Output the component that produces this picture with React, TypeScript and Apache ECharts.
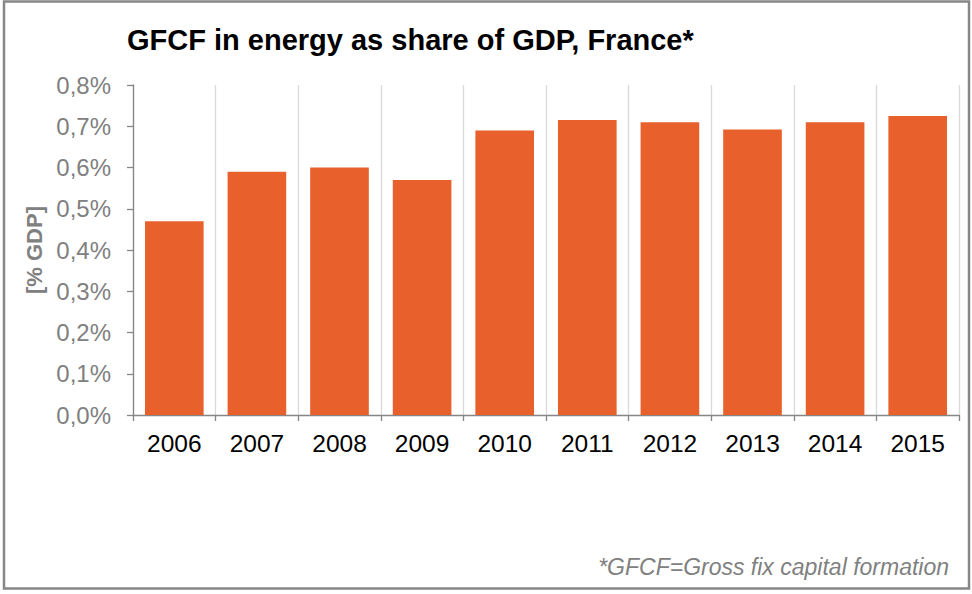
import React, { useEffect, useRef } from "react";
import * as echarts from "echarts";

const categories = ["2006", "2007", "2008", "2009", "2010", "2011", "2012", "2013", "2014", "2015"];
const values = [0.47, 0.59, 0.6, 0.57, 0.69, 0.715, 0.71, 0.692, 0.71, 0.725];
const titleText = "GFCF in energy as share of GDP, France*";
const footnoteText = "*GFCF=Gross fix capital formation";
const yAxisName = "[% GDP]";

export default function App() {
  const ref = useRef<HTMLDivElement>(null);
  useEffect(() => {
    if (!ref.current) return;
    const chart = echarts.init(ref.current, null, { renderer: "svg" });
    const font = "Liberation Sans, Arial, sans-serif";
    chart.setOption({
      animation: false,
      backgroundColor: "#ffffff",
      textStyle: { fontFamily: font },
      title: {
        text: titleText,
        left: 122,
        top: 20,
        textStyle: { fontSize: 29, fontWeight: "bold", color: "#000000", fontFamily: font },
      },
      grid: { left: 133, right: 13, top: 85, bottom: 179, containLabel: false },
      xAxis: {
        type: "category",
        data: categories,
        boundaryGap: true,
        axisLine: { show: true, lineStyle: { color: "#868686", width: 1.3 } },
        axisTick: { show: true, alignWithLabel: false, length: 6, lineStyle: { color: "#868686", width: 1.3 } },
        axisLabel: { color: "#000000", fontSize: 24.5, margin: 16, fontFamily: font },
        splitLine: { show: true, lineStyle: { color: "#d9d9d9", width: 1.3 } },
      },
      yAxis: {
        type: "value",
        min: 0,
        max: 0.8,
        interval: 0.1,
        name: yAxisName,
        nameLocation: "middle",
        nameGap: 88,
        nameRotate: 90,
        nameTextStyle: { color: "#808080", fontSize: 22, fontWeight: "bold", fontFamily: font },
        axisLine: { show: true, lineStyle: { color: "#868686", width: 1.3 } },
        axisTick: { show: true, inside: false, length: 6, lineStyle: { color: "#868686", width: 1.3 } },
        axisLabel: {
          color: "#808080",
          fontSize: 24,
          margin: 22,
          fontFamily: font,
          formatter: (v: number) => v.toFixed(1).replace(".", ",") + "%",
        },
        splitLine: { show: false },
      },
      series: [
        {
          type: "bar",
          data: values,
          barCategoryGap: "29%",
          itemStyle: { color: "#E8612D" },
        },
      ],
      graphic: [
        {
          type: "rect",
          shape: { x: 4, y: 1.5, width: 965, height: 587 },
          style: { fill: "none", stroke: "#878787", lineWidth: 2.5 },
          silent: true,
        },
        {
          type: "text",
          right: 23,
          top: 555,
          style: {
            text: footnoteText,
            fill: "#808080",
            fontSize: 23,
            fontStyle: "italic",
            fontFamily: font,
          },
        },
      ],
    });
    return () => chart.dispose();
  }, []);
  return (
    <div
      ref={ref}
      style={{ position: "fixed", left: 0, top: 0, width: 972, height: 594 }}
    />
  );
}
